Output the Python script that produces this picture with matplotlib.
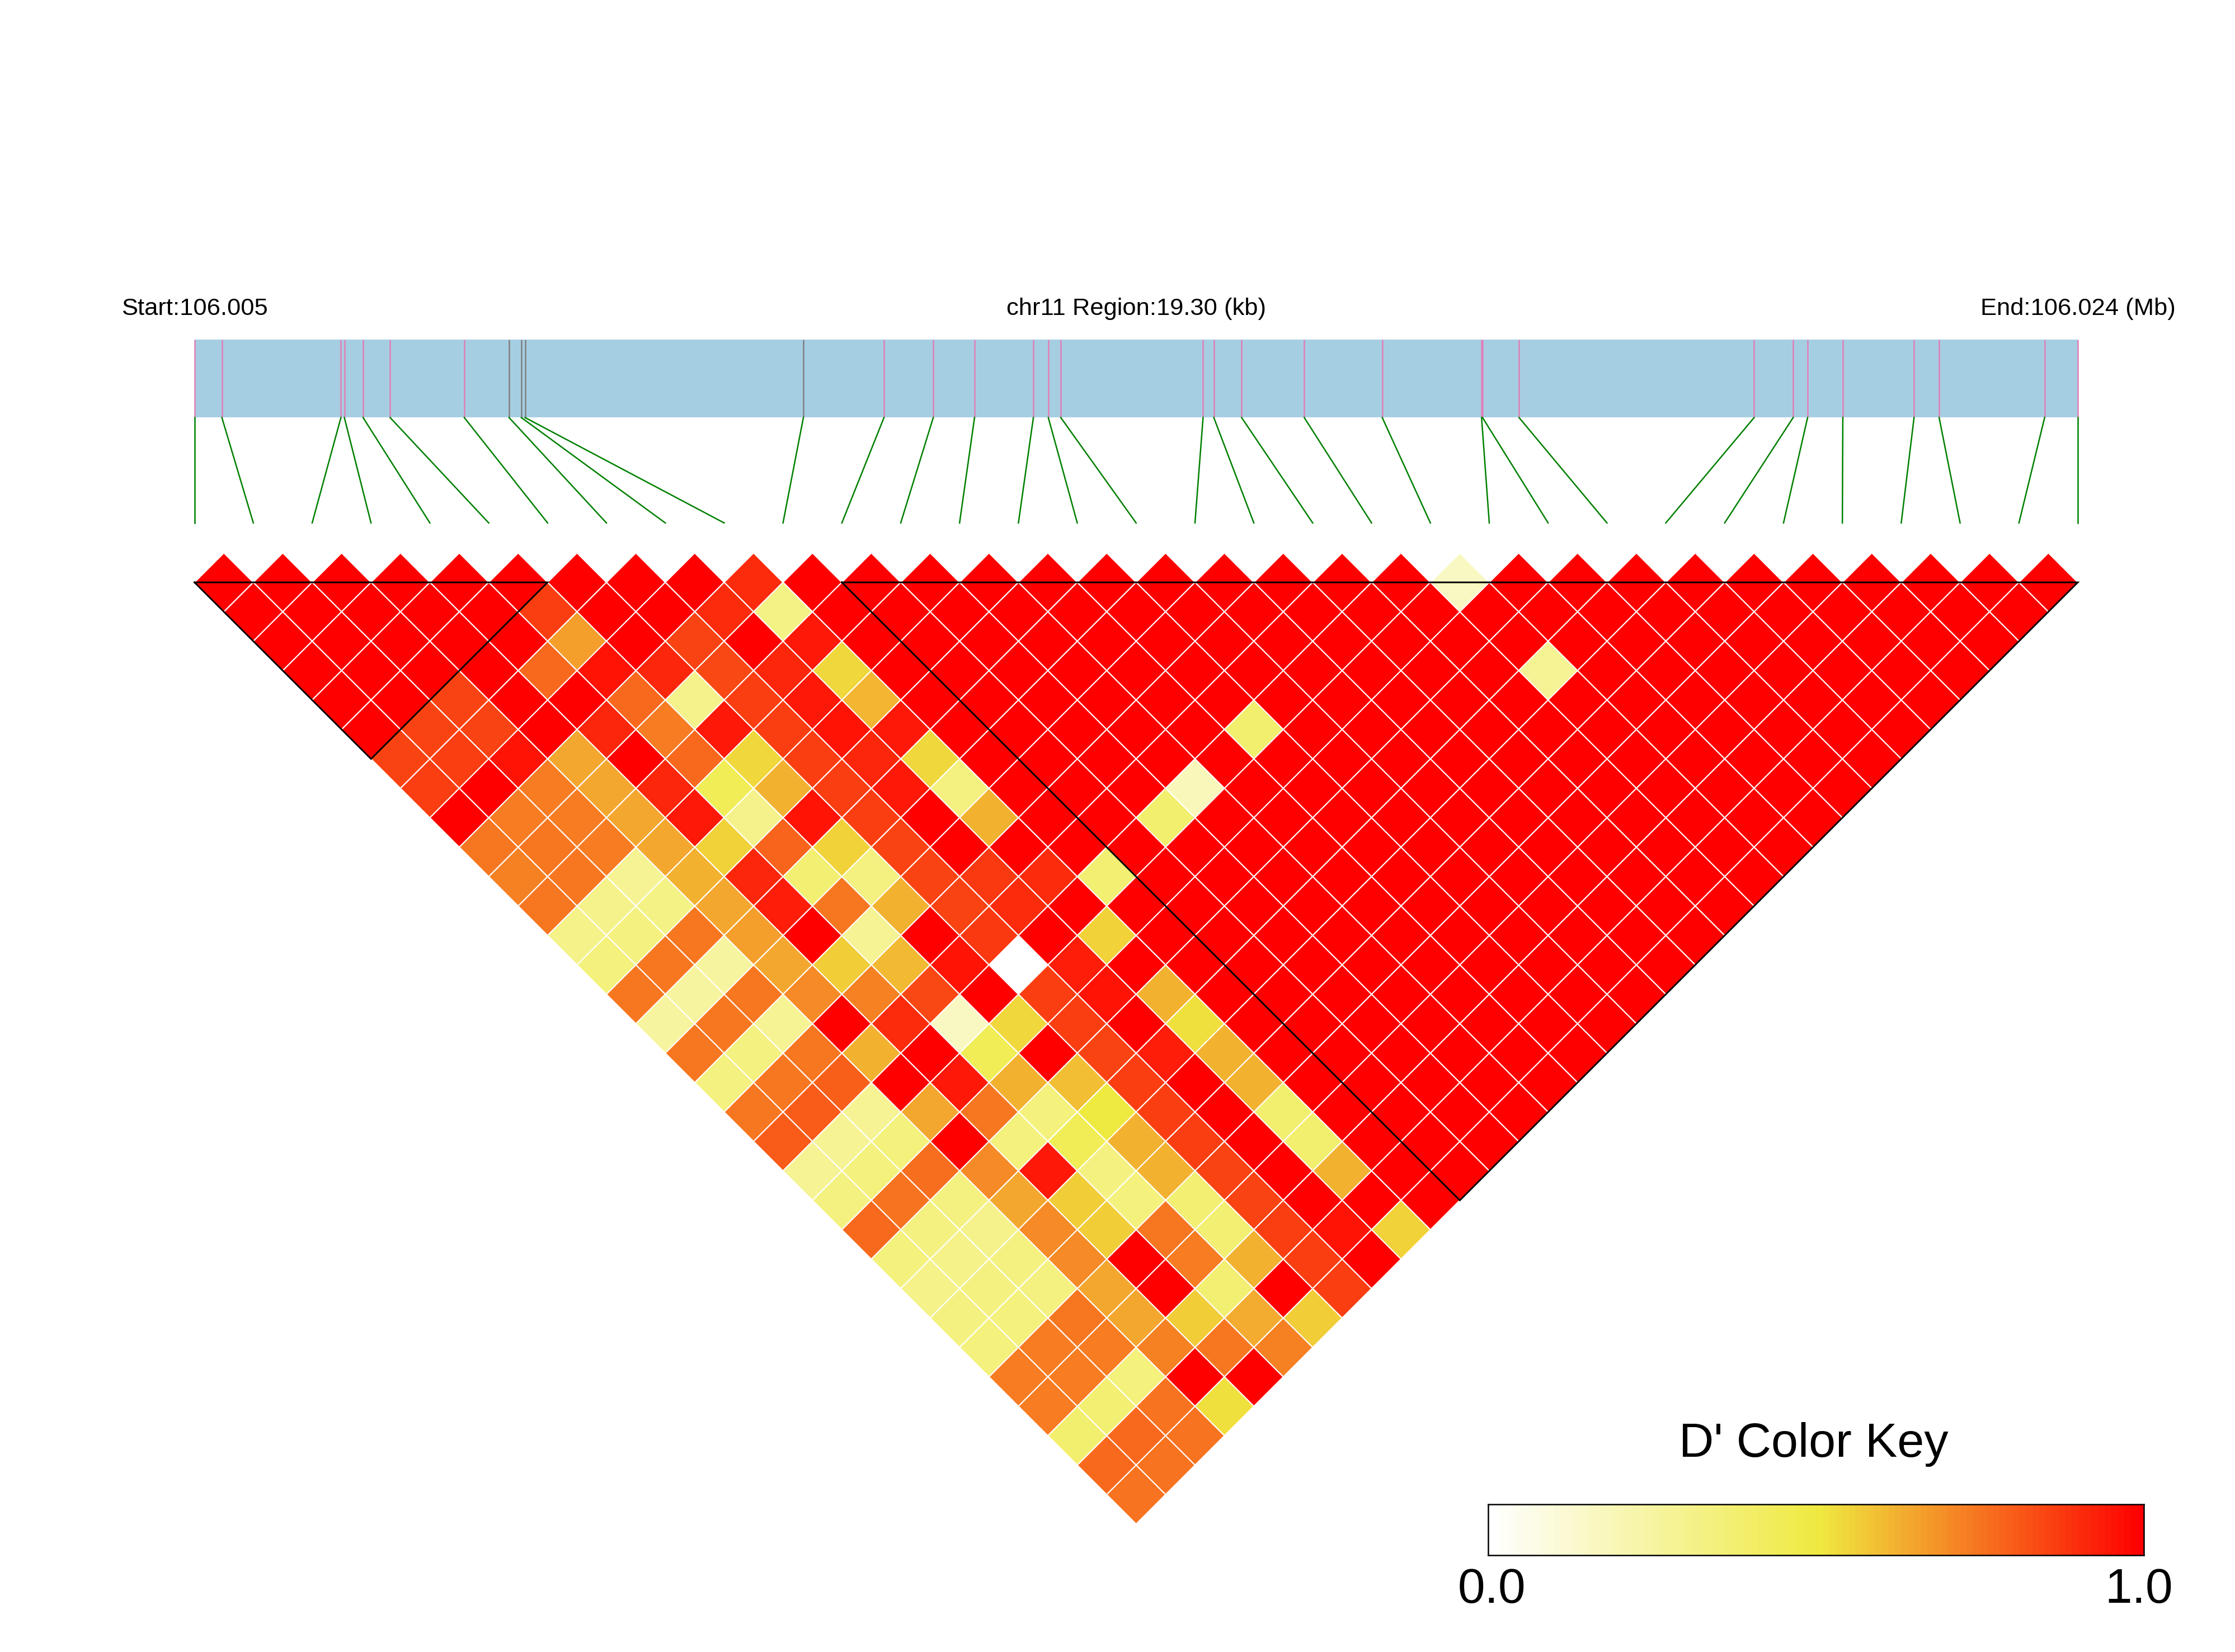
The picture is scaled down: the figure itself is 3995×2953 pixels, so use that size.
import numpy as np
import matplotlib
matplotlib.use('Agg')
import matplotlib.pyplot as plt
from matplotlib.collections import PolyCollection
from matplotlib.colors import LinearSegmentedColormap

plt.rcParams['font.family'] = ['Liberation Sans', 'DejaVu Sans']

# snp positions in kb from region start
region_kb = 19.30
snp_kb = [0, 0.281, 1.501, 1.536, 1.728, 2.005, 2.765, 3.224, 3.350, 3.388, 6.240,
          7.066, 7.571, 7.994, 8.597, 8.750, 8.878, 10.336, 10.446, 10.731, 11.373,
          12.172, 13.190, 13.200, 13.574, 15.983, 16.383, 16.531, 16.892, 17.622,
          17.879, 18.960, 19.30]
gray_snps = [7, 8, 9, 10]
blocks = [(0, 6), (11, 32)]

# D' per row of the triangle, row 0 = adjacent snps
r00 = [1]*9 + [.90] + [1]*11 + [.16] + [1]*10
r01 = [1]*5 + [.86, 1, 1, .90, .32] + [1]*21
r02 = [1]*5 + [.66, 1, .85, 1, .94] + [1]*20
r03 = [1]*4 + [.77, .95, .91, .84, .91, .54] + [1]*11 + [.29] + [1]*7
r04 = [1, 1, .85, 1, 1, .77, .30, .86, .94, .61] + [1]*18
r05 = [1, .85, .85, 1, .91, .73, .94, .86, .95, .94] + [1]*5 + [.38] + [1]*11
r06 = [.85, .86, .95, .645, 1, .77, .54, .86, .91, .54] + [1]*16
r07 = [.86, 1, .73, .645, .91, .445, .62, .86, .94, .33, 1, 1, 1, .18] + [1]*11
r08 = [1, .73, .73, .645, .94, .30, .95, .86, 1, .62, 1, 1, .38] + [1]*11
r09 = [.74, .74, .73, .645, .55, .78, .55, .85, 1, 1] + [1]*13
r10 = [.72, .74, .29, .62, .91, .37, .33, .85, .87, .90, .37] + [1]*11
r11 = [.74, .30, .32, .645, .93, .74, .62, .85, .90, 1] + [1]*11
r12 = [.31, .33, .74, .66, 1, .28, 1, .87, 1, .55] + [1]*10
r13 = [.34, .74, .25, .645, .56, .60, .95, 0, .93, 1] + [1]*9
r14 = [.74, .25, .74, .70, .72, .84, 1, .86, .95, .62] + [1]*8
r15 = [.25, .74, .29, 1, .90, .16, .54, .86, 1, .52] + [1]*7
r16 = [.74, .33, .74, .62, 1, .445, 1, .85, .93, .62] + [1]*6
r17 = [.33, .74, .79, 1, .94, .62, .59, .86, 1, .62] + [1]*5
r18 = [.74, .80, .28, .645, .74, .34, .505, .86, 1, .38] + [1]*4
r19 = [.80, .28, .34, 1, .34, .44, .62, .86, 1, .38] + [1]*3
r20 = [.28, .34, .76, .70, .94, .33, .62, .85, 1, .62, 1, 1]
r21 = [.33, .75, .33, .645, .56, .34, .37, .85, 1, 1, 1]
r22 = [.77, .33, .30, .70, .56, .74, .37, .86, .95, .55]
r23 = [.34, .31, .33, .70, 1, .73, .62, .86, 1]
r24 = [.31, .33, .33, .645, 1, .37, 1, .86]
r25 = [.33, .34, .74, .645, .56, .63, .57]
r26 = [.34, .735, .735, .72, .74, .72]
r27 = [.735, .735, .34, 1, 1]
r28 = [.735, .37, .75, .52]
r29 = [.38, .77, .75]
r30 = [.77, .75]
r31 = [.75]
rows = [r00, r01, r02, r03, r04, r05, r06, r07, r08, r09, r10, r11, r12, r13, r14, r15,
        r16, r17, r18, r19, r20, r21, r22, r23, r24, r25, r26, r27, r28, r29, r30, r31]

W, H = 3995, 2953
n = len(snp_kb)
cmap = LinearSegmentedColormap.from_list('ld', [(0, '#ffffff'), (.505, '#efea40'), (1, '#ff0000')], N=100)

fig = plt.figure(figsize=(W/300, H/300), dpi=300)
ax = fig.add_axes([0, 0, 1, 1])
# one x unit = one snp, one y unit = half a diamond
ax.set_xlim(-347.6/105.2, (W-347.6)/105.2)
ax.set_ylim((H-1041)/52.6, -1041/52.6)
ax.axis('off')

# gene band
band_top, band_bot, line_bot = -8.26, -5.6, -2.02
snp_x = np.array(snp_kb)/region_kb*(n-1)
ax.fill_between([0, n-1], band_top, band_bot, color='#a6cee3', lw=0)
for i in range(n):
    c = '#808080' if i in gray_snps else '#df80b8'
    ax.plot([snp_x[i], snp_x[i]], [band_top, band_bot], color=c, lw=0.6, solid_capstyle='butt')
    ax.plot([snp_x[i], i], [band_bot, line_bot], color='green', lw=0.6)

# diamonds
polys = []
vals = []
for r, row in enumerate(rows):
    for k, v in enumerate(row):
        cx = k + (r+1)/2
        polys.append([(cx-.5, r), (cx, r-1), (cx+.5, r), (cx, r+1)])
        vals.append(v)
pc = PolyCollection(polys, array=np.array(vals), cmap=cmap, clim=(0, 1), edgecolors='white', linewidths=0.5)
ax.add_collection(pc)

# haplotype blocks
for a, b in blocks:
    ax.plot([a, b, (a+b)/2, a], [0, 0, b-a, 0], color='black', lw=0.7, solid_joinstyle='miter')

ax.text(0, -9.29, 'Start:106.005', ha='center', va='center', fontsize=10.45)
ax.text((n-1)/2, -9.29, 'chr11 Region:%.2f (kb)' % region_kb, ha='center', va='center', fontsize=10.45)
ax.text(n-1, -9.29, 'End:106.024 (Mb)', ha='center', va='center', fontsize=10.45)

# color key
cax = fig.add_axes([2660/W, 1-2780/H, (3832-2660)/W, (2780-2689)/H])
cax.imshow(np.linspace(0, 1, 100).reshape(1, -1), cmap=cmap, vmin=0, vmax=1, aspect='auto')
cax.set_xticks([])
cax.set_yticks([])
for s in cax.spines.values():
    s.set_linewidth(0.6)
fig.text(3242/W, 1-2604/H, "D' Color Key", ha='center', va='baseline', fontsize=20.7)
fig.text(2666/W, 1-2865/H, '0.0', ha='center', va='baseline', fontsize=21)
fig.text(3823/W, 1-2865/H, '1.0', ha='center', va='baseline', fontsize=21)

fig.savefig('out.png', dpi=300)
